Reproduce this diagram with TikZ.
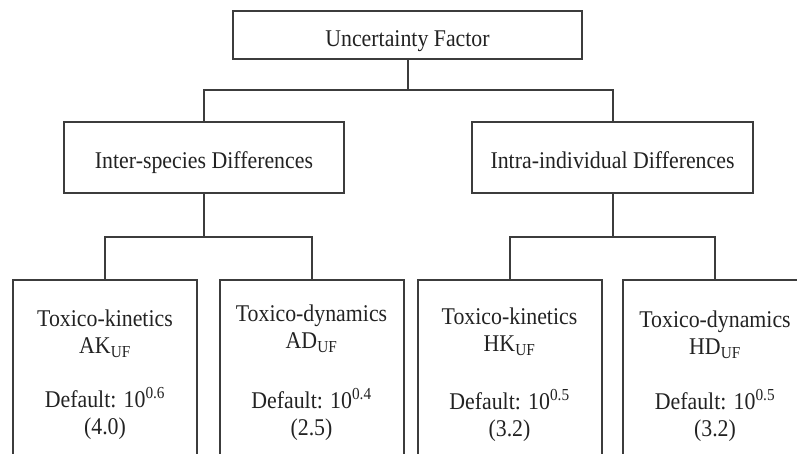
\documentclass[tikz,border=0pt]{standalone}
\usepackage{fontspec}
\setmainfont{Liberation Serif}[FakeStretch=0.91]
\definecolor{edge}{HTML}{3C3C3C}
\definecolor{ink}{HTML}{222222}
\begin{document}
\begin{tikzpicture}[x=1pt,y=-1pt,
	box/.style={draw=edge,line width=2pt,inner sep=0pt,text=ink,
		text height=22.5pt,text depth=0pt,
		font=\fontsize{24}{27}\selectfont},
	cell/.style={draw=edge,line width=2pt,minimum width=184pt,minimum height=190pt},
	celltext/.style={anchor=north,inner sep=0pt,align=center,text=ink,
		font=\fontsize{24}{27}\selectfont},
	link/.style={draw=edge,line width=2pt}]
	\useasboundingbox (0,0) rectangle (797,453);
	\clip (0,0) rectangle (797,453);

	\node[box,minimum width=349pt,minimum height=48pt] (uf) at (407.5,35) {Uncertainty Factor};
	\node[box,minimum width=280pt,minimum height=71pt] (inter) at (204,157.5) {Inter-species Differences};
	\node[box,minimum width=281pt,minimum height=71pt] (intra) at (612.5,157.5) {Intra-individual Differences};

	\node[cell] (ak) at (105,375) {};
	\node[cell] (ad) at (311.5,375) {};
	\node[cell] (hk) at (509.5,375) {};
	\node[cell] (hd) at (715,375) {};

	\node[celltext] (aktxt) at (105,310) {Toxico-kinetics\\AK\textsubscript{UF}\\[27pt]Default: 10\textsuperscript{0.6}\\(4.0)};
	\node[celltext] (adtxt) at (311.5,305) {Toxico-dynamics\\AD\textsubscript{UF}\\[33pt]Default: 10\textsuperscript{0.4}\\(2.5)};
	\node[celltext] (hktxt) at (509.5,308) {Toxico-kinetics\\HK\textsubscript{UF}\\[31pt]Default: 10\textsuperscript{0.5}\\(3.2)};
	\node[celltext] (hdtxt) at (715,311) {Toxico-dynamics\\HD\textsubscript{UF}\\[28pt]Default: 10\textsuperscript{0.5}\\(3.2)};

	\coordinate (bus1) at (407.5,90);
	\coordinate (bus2) at (204,237);
	\coordinate (bus3) at (612.5,237);

	\draw[link] (uf.south) -- (bus1);
	\draw[link] (inter.north) |- (bus1) -| (intra.north);
	\draw[link] (inter.south) -- (bus2);
	\draw[link] (ak.north) |- (bus2) -| (ad.north);
	\draw[link] (intra.south) -- (bus3);
	\draw[link] (hk.north) |- (bus3) -| (hd.north);
\end{tikzpicture}
\end{document}
